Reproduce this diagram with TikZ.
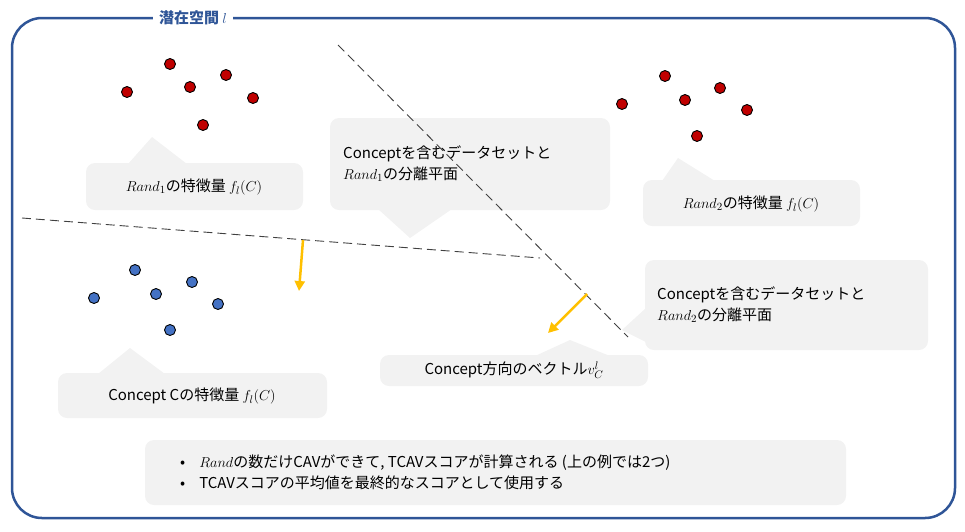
\documentclass[tikz,border=0pt]{standalone}
\usepackage{fontspec}
\setmainfont{Noto Sans CJK JP}
\usetikzlibrary{arrows.meta}
\definecolor{frameblue}{HTML}{2F5597}
\definecolor{callg}{HTML}{F2F2F2}
\definecolor{gold}{HTML}{FFC000}
\definecolor{dred}{HTML}{C00000}
\definecolor{dblue}{HTML}{4472C4}
\begin{document}
\begin{tikzpicture}[x=1pt,y=-1pt,
  rdot/.style={circle,draw=black,line width=0.9pt,fill=dred,inner sep=0pt,minimum size=11pt},
  bdot/.style={circle,draw=black,line width=0.9pt,fill=dblue,inner sep=0pt,minimum size=11pt},
  call/.style={fill=callg,rounded corners=9pt},
  txt/.style={font=\fontsize{15}{21}\selectfont,align=left,inner sep=0pt},
  plane/.style={dash pattern=on 9pt off 5pt,line width=0.9pt,draw=black!75},
  vec/.style={-{Triangle[length=10pt,width=10pt]},line width=2.5pt,draw=gold}]
\useasboundingbox (0,0) rectangle (965,531);
\draw[frameblue,line width=2.5pt,rounded corners=30pt] (12,18) rectangle (955,518);
\node[fill=white,text=frameblue,font=\fontsize{15}{18}\selectfont\bfseries,inner xsep=6pt] (title) at (193,18) {潜在空間 $l$};
% dots
\foreach \p/\n in {{(127,92)}/r1,{(170,64)}/r2,{(190,87)}/r3,{(226,75)}/r4,{(253,98)}/r5,{(203,125)}/r6,
  {(665,76)}/s1,{(622,104)}/s2,{(685,100)}/s3,{(720,88)}/s4,{(747,110)}/s5,{(697,136)}/s6}
  \node[rdot] (\n) at \p {};
\foreach \p/\n in {{(135,270)}/b1,{(94,298)}/b2,{(156,294)}/b3,{(192,282)}/b4,{(218,304)}/b5,{(170,330)}/b6}
  \node[bdot] (\n) at \p {};
% callouts
\fill[call] (86,163) rectangle (303,210);
\fill[callg] (128,164) -- (152,137) -- (187,164) -- cycle;
\node[txt] (t1) at (194,187) {$Rand_1$の特徴量 $f_l(C)$};
\fill[call] (330,118) rectangle (610,210);
\fill[callg] (378,209) -- (410,238) -- (452,209) -- cycle;
\node[txt,anchor=west] (t2) at (343,164) {Conceptを含むデータセットと\\$Rand_1$の分離平面};
\fill[call] (643,180) rectangle (860,226);
\fill[callg] (662,181) -- (678,158) -- (715,181) -- cycle;
\node[txt] (t3) at (751,204) {$Rand_2$の特徴量 $f_l(C)$};
\fill[call] (645,260) rectangle (928,350);
\fill[callg] (646,308) -- (622,330) -- (646,342) -- cycle;
\node[txt,anchor=west] (t4) at (657,305) {Conceptを含むデータセットと\\$Rand_2$の分離平面};
\fill[call] (380,355) rectangle (648,386);
\fill[callg] (535,356) -- (570,340) -- (610,356) -- cycle;
\node[txt] (t5) at (514,370) {Concept方向のベクトル$v_C^l$};
\fill[call] (58,373) rectangle (327,418);
\fill[callg] (98,374) -- (130,348) -- (165,374) -- cycle;
\node[txt] (t6) at (192,396) {Concept Cの特徴量 $f_l(C)$};
\fill[call] (145,440) rectangle (846,505);
\node[txt,anchor=west] (t7) at (180,472) {•\hspace{14pt}$Rand$の数だけCAVができて, TCAVスコアが計算される (上の例では2つ)\\•\hspace{14pt}TCAVスコアの平均値を最終的なスコアとして使用する};
% planes
\coordinate (p1a) at (22,218); \coordinate (p1b) at (540,258);
\coordinate (p2a) at (338,45); \coordinate (p2b) at (628,337);
\draw[plane] (p1a) -- (p1b);
\draw[plane] (p2a) -- (p2b);
% vectors
\coordinate (v1a) at (303,240); \coordinate (v1b) at (299,291);
\coordinate (v2a) at (587,294); \coordinate (v2b) at (548,333);
\draw[vec] (v1a) -- (v1b);
\draw[vec] (v2a) -- (v2b);
\end{tikzpicture}
\end{document}
